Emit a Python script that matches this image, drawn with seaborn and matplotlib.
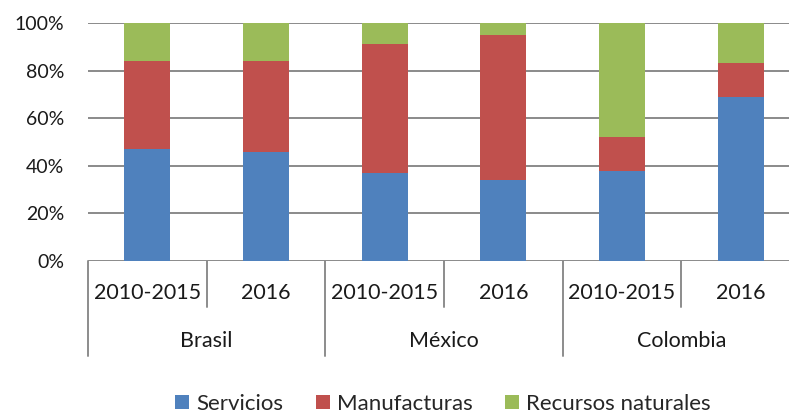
import matplotlib
matplotlib.use("Agg")
import matplotlib.pyplot as plt
import matplotlib.transforms as mtransforms
from matplotlib.patches import Patch
import seaborn as sns
import pandas as pd
import numpy as np

countries = ["Brasil", "México", "Colombia"]
periods = ["2010-2015", "2016"]
servicios = [47, 46, 37, 34, 38, 69]
manufacturas = [37, 38, 54, 61, 14, 14]
recursos = [16, 16, 9, 5, 48, 17]
series_names = ["Servicios", "Manufacturas", "Recursos naturales"]
colors = ["#4F81BD", "#C0504D", "#9BBB59"]
yticks = [0, 20, 40, 60, 80, 100]

sns.set_theme(style="white")
plt.rcParams["font.family"] = ["Lato", "DejaVu Sans"]

ids = [f"{c}|{p}" for c in countries for p in periods]
df = pd.DataFrame({"id": ids,
                   "s": servicios,
                   "m": manufacturas,
                   "r": recursos})
df["sm"] = df["s"] + df["m"]
df["total"] = df["sm"] + df["r"]

fig = plt.figure(figsize=(7.89, 4.15), dpi=100)
W, H = 789, 415
x0, x1, ytop, ybot = 88, 800, 23, 261
ax = fig.add_axes([x0 / W, 1 - ybot / H, (x1 - x0) / W, (ybot - ytop) / H])

for col, colr in zip(["total", "sm", "s"], colors[::-1]):
    sns.barplot(data=df, x="id", y=col, order=ids, color=colr, width=0.39,
                saturation=1, ax=ax, zorder=3, edgecolor="none")

ax.set_ylim(0, 100)
ax.set_xlim(-0.5, 5.5)
ax.set_yticks(yticks)
ax.set_yticklabels([f"{v}%" for v in yticks], fontsize=14, color="#1a1a1a")
ax.tick_params(axis="y", length=0, pad=17)
ax.set_xticks([])
ax.set_xlabel("")
ax.set_ylabel("")
for v in yticks:
    ax.axhline(v, color="#8a8a8a", lw=1.4, zorder=1)
for s in ax.spines.values():
    s.set_visible(False)

trans = mtransforms.blended_transform_factory(ax.transData, ax.transAxes)
gc = "#8c8c8c"
# hierarchical axis dividers
for xd in [0.5, 2.5, 4.5]:
    ax.plot([xd, xd], [0, -0.193], transform=trans, color=gc, lw=1.4, clip_on=False)
for xd in [-0.5, 1.5, 3.5, 5.5]:
    ax.plot([xd, xd], [0, -0.399], transform=trans, color=gc, lw=1.4, clip_on=False)

for i, p in enumerate(periods * len(countries)):
    ax.text(i, -0.134, p, transform=trans, ha="center", va="center",
            fontsize=15.5, color="#1a1a1a")
for j, c in enumerate(countries):
    ax.text(2 * j + 0.5, -0.336, c, transform=trans, ha="center", va="center",
            fontsize=15.5, color="#1a1a1a")

handles = [Patch(facecolor=c, edgecolor="none", label=n) for c, n in zip(colors, series_names)]
fig.legend(handles=handles, loc="center", bbox_to_anchor=(443 / W, 1 - 404 / H),
           ncol=3, frameon=False, fontsize=16, handlelength=0.63, handleheight=0.63,
           handletextpad=0.32, columnspacing=1.45, borderpad=0)

fig.savefig("out.png", dpi=100)
